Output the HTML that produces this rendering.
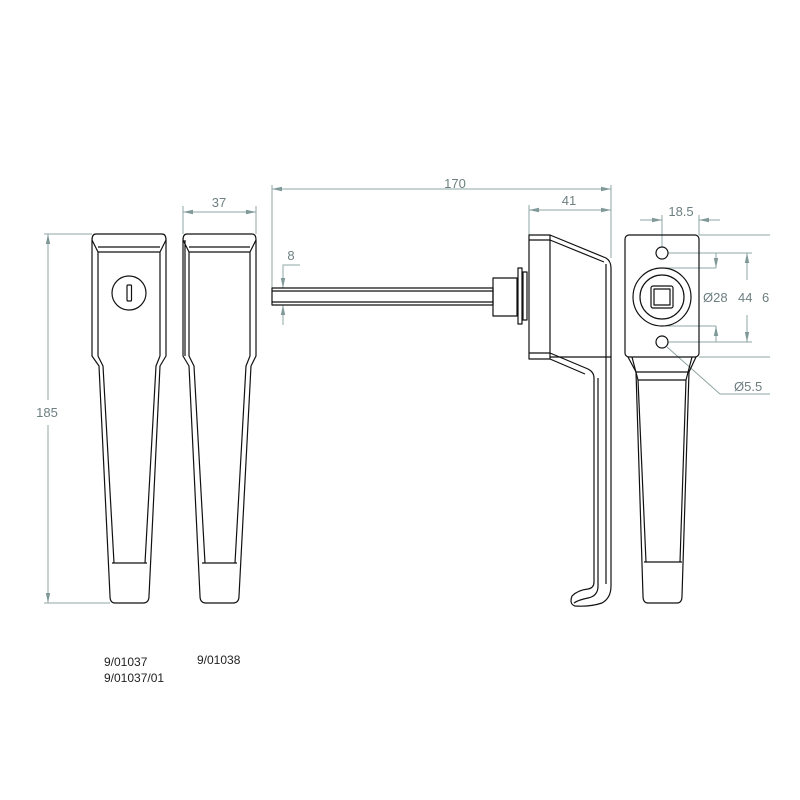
<!DOCTYPE html>
<html><head><style>html,body{margin:0;padding:0;background:#fff}svg{display:block}</style></head>
<body>
<svg width="800" height="800" viewBox="0 0 800 800" xmlns="http://www.w3.org/2000/svg">
<defs>
<marker id="a" markerWidth="10" markerHeight="6" refX="10" refY="3" orient="auto-start-reverse" markerUnits="userSpaceOnUse"><path d="M0,0.8 L10,3 L0,5.2z" fill="#7f9898"/></marker>
</defs>
<rect width="800" height="800" fill="#fff"/>
<g fill="none" stroke="#8fa5a5" stroke-width="1">
<line x1="48" y1="234" x2="48" y2="400" marker-start="url(#a)"/>
<line x1="48" y1="425" x2="48" y2="603" marker-end="url(#a)"/>
<line x1="44" y1="234" x2="92" y2="234"/><line x1="44" y1="603" x2="110" y2="603"/>
<line x1="183" y1="206" x2="183" y2="234"/><line x1="256" y1="206" x2="256" y2="234"/>
<line x1="183" y1="212" x2="256" y2="212" marker-start="url(#a)" marker-end="url(#a)"/>
<line x1="272" y1="185" x2="272" y2="288"/><line x1="611" y1="185" x2="611" y2="258"/>
<line x1="272" y1="189" x2="611" y2="189" marker-start="url(#a)" marker-end="url(#a)"/>
<line x1="529" y1="205" x2="529" y2="235"/>
<line x1="529" y1="210" x2="611" y2="210" marker-start="url(#a)" marker-end="url(#a)"/>
<polyline points="300,265 283,265 283,288" marker-end="url(#a)"/>
<line x1="283" y1="325" x2="283" y2="305" marker-end="url(#a)"/>
<line x1="662" y1="215" x2="662" y2="247"/><line x1="699" y1="215" x2="699" y2="235"/>
<line x1="640" y1="220" x2="662" y2="220" marker-end="url(#a)"/>
<line x1="720" y1="220" x2="699" y2="220" marker-end="url(#a)"/>
<line x1="699" y1="235" x2="770" y2="235"/><line x1="668" y1="253" x2="752" y2="253"/>
<line x1="668" y1="342" x2="752" y2="342"/><line x1="699" y1="357" x2="770" y2="357"/>
<line x1="662" y1="268" x2="716" y2="268"/><line x1="662" y1="326" x2="716" y2="326"/>
<line x1="716" y1="253" x2="716" y2="268" marker-end="url(#a)"/>
<line x1="716" y1="342" x2="716" y2="326" marker-end="url(#a)"/>
<line x1="747" y1="280" x2="747" y2="253" marker-end="url(#a)"/>
<line x1="747" y1="315" x2="747" y2="342" marker-end="url(#a)"/>
<polyline points="667,347 720,394 770,394"/>
</g>
<g font-family="Liberation Sans, sans-serif" font-size="13" fill="#6d7f80">
<text x="47" y="417" text-anchor="middle">185</text>
<text x="219" y="207" text-anchor="middle">37</text>
<text x="455" y="188" text-anchor="middle">170</text>
<text x="569" y="205" text-anchor="middle">41</text>
<text x="291" y="260" text-anchor="middle">8</text>
<text x="681" y="216" text-anchor="middle">18.5</text>
<text x="703" y="302">Ø28</text>
<text x="738" y="302">44</text>
<text x="762" y="302">6</text>
<text x="734" y="391">Ø5.5</text>
</g>
<g fill="none" stroke="#111" stroke-width="1.2" stroke-linejoin="round">
<path d="M96,234 L162,234 Q166,234 166,240 L166,356 L160,366 L149,596 Q149,603 143,603 L115,603 Q110,603 110,596 L99,366 L92,356 L92,240 Q92,234 96,234z"/>
<path d="M98,252 L160,252 M92,240 L98,252 L98,356 M166,240 L160,252 L160,356 M98,356 L103,366 L114,563 M160,356 L156,366 L145,563 M112,563 L147,563 M98,247 L160,247"/>
<circle cx="129" cy="293" r="17"/>
<rect x="127" y="285" width="4.5" height="16" rx="1"/>
<path d="M187,234 L252,234 Q256,234 256,240 L256,356 L251,366 L239,596 Q239,603 233,603 L206,603 Q200,603 200,596 L189,366 L183,356 L183,240 Q183,234 187,234z"/>
<path d="M189,252 L250,252 M183,240 L189,252 L189,356 M256,240 L250,252 L250,356 M189,356 L194,366 L205,563 M250,356 L246,366 L235,563 M202,563 L237,563 M189,247 L250,247 M185,240 L185,356"/>
<rect x="272" y="288" width="221" height="17"/>
<line x1="272" y1="291" x2="493" y2="291"/><line x1="272" y1="302" x2="493" y2="302"/>
<rect x="493" y="278" width="24" height="38"/>
<rect x="518" y="268" width="4" height="56"/>
<rect x="523" y="272" width="4" height="48"/>
<rect x="529" y="235" width="21" height="124"/>
<line x1="529" y1="240" x2="550" y2="240"/><line x1="529" y1="353" x2="550" y2="353"/>
<path d="M550,235 L606,258 Q611,261 611,268 L611,586 Q611,598 602,603 Q590,607 575,606 Q569,604 572,596 Q578,590 588,589 Q594,588 594,582 L594,378 Q594,372 588,369 L550,353"/>
<path d="M550,240 L604,262 M606,264 L606,584 M598,378 L598,586 Q598,596 588,598 Q578,600 574,603 M550,359 L585,374 M611,357 L550,357"/>
<rect x="625" y="235" width="74" height="122" rx="4"/>
<circle cx="662" cy="253" r="6"/><circle cx="662" cy="342" r="6"/>
<circle cx="662" cy="297" r="29"/><circle cx="662" cy="297" r="22"/>
<rect x="654" y="289" width="16" height="16"/>
<rect x="651" y="286" width="22" height="22" rx="2"/>
<path d="M628,357 L636,372 L643,596 Q643,603 648,603 L677,603 Q682,603 682,596 L689,372 L696,357"/>
<path d="M636,372 L689,372 M632,357 L638,380 L646,562 M692,357 L686,380 L680,562 M644,562 L682,562 M638,380 L686,380"/>
</g>
<g font-family="Liberation Sans, sans-serif" font-size="12" fill="#222">
<text x="104" y="666">9/01037</text>
<text x="104" y="682">9/01037/01</text>
<text x="197" y="664">9/01038</text>
</g>
</svg>
</body></html>
